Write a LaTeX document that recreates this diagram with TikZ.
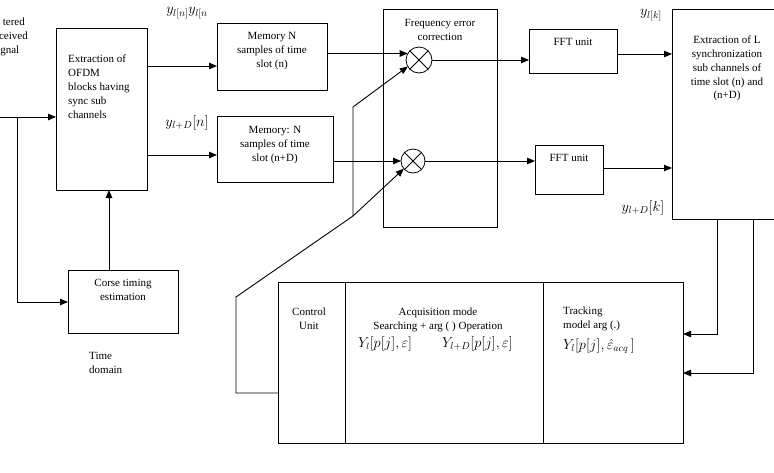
\documentclass[tikz,border=0pt]{standalone}
\usepackage{fontspec}
\setmainfont{Liberation Serif}
\usetikzlibrary{arrows.meta,calc}
\begin{document}
\begin{tikzpicture}[x=1pt,y=-1pt,
 blk/.style={draw, line width=0.8pt, inner sep=0pt, outer sep=0pt},
 mult/.style={draw, circle, line width=0.8pt, inner sep=0pt, outer sep=0pt},
 txt/.style={inner sep=0pt, align=center, font=\fontsize{11}{14}\selectfont},
 txtl/.style={inner sep=0pt, align=left, font=\fontsize{11}{14}\selectfont},
 mth/.style={inner sep=0pt, font=\fontsize{14}{16}\selectfont},
 arr/.style={-{Triangle[length=8pt,width=6.5pt]}},
 wire/.style={line width=0.9pt}]
\useasboundingbox (0,0) rectangle (774,472);
\clip (0,0) rectangle (774,472);
\fill[white] (0,0) rectangle (774,472);

% blocks
\node[blk, minimum width=91pt, minimum height=162pt] (ofdm) at (101.5,109) {};
\node[blk, minimum width=110pt, minimum height=67pt] (memN) at (272,56.5) {};
\node[blk, minimum width=116pt, minimum height=66pt] (memD) at (275,149) {};
\node[blk, minimum width=114pt, minimum height=218pt] (fec) at (440,118) {};
\node[blk, minimum width=88pt, minimum height=44pt] (fft1) at (573,51) {};
\node[blk, minimum width=68pt, minimum height=49pt] (fft2) at (569,169.5) {};
\node[blk, minimum width=118pt, minimum height=210pt] (extL) at (731,114) {};
\node[blk, minimum width=110pt, minimum height=63pt] (corse) at (123,301.5) {};
\node[blk, minimum width=405pt, minimum height=161pt] (bottom) at (480.5,362.5) {};
\draw[line width=0.8pt] ([xshift=67pt]bottom.north west) -- ([xshift=67pt]bottom.south west);
\draw[line width=0.8pt] ([xshift=265pt]bottom.north west) -- ([xshift=265pt]bottom.south west);

\node[mult, minimum size=26pt] (mul1) at (419,60) {};
\node[mult, minimum size=24pt] (mul2) at (413,161) {};
\draw[line width=0.8pt] (mul1.45) -- (mul1.225) (mul1.135) -- (mul1.315);
\draw[line width=0.8pt] (mul2.45) -- (mul2.225) (mul2.135) -- (mul2.315);

% texts
\node[txtl, anchor=base east] (tin1) at (25,25.5) {tered};
\node[txtl, anchor=base east] (tin2) at (28,39.5) {ceived};
\node[txtl, anchor=base east] (tin3) at (19.5,53.5) {gnal};
\node[txtl, anchor=north west] (tofdm) at (68,55) {Extraction of\\OFDM\\blocks having\\sync sub\\channels};
\node[txt, anchor=north] (tmemN) at (272,32) {Memory N\\samples of time\\slot (n)};
\node[txt, anchor=north] (tmemD) at (275,126) {Memory: N\\samples of time\\slot (n+D)};
\node[txt, anchor=north] (tfec) at (440,19) {Frequency error\\correction};
\node[txt, anchor=north] (tfft1) at (573,38) {FFT unit};
\node[txt, anchor=north] (tfft2) at (569,154) {FFT unit};
\node[txt, anchor=north, font=\fontsize{11}{13.75}\selectfont] (textL) at (727,36) {Extraction of L\\synchronization\\sub channels of\\time slot (n) and\\(n+D)};
\node[txt, anchor=north] (tcorse) at (123,279) {Corse timing\\estimation};
\node[txtl, anchor=north west] (ttime) at (89,352) {Time\\domain};
\node[txt, anchor=north] (tctrl) at (309,308) {Control\\Unit};
\node[txt, anchor=north] (tacq) at (438,308) {Acquisition mode\\Searching + arg ( ) Operation};
\node[txtl, anchor=north west] (ttrk) at (563,307) {Tracking\\model arg (.)};

\node[mth, anchor=west, font=\fontsize{13.5}{15}\selectfont] (f1) at (358,344) {$Y_{l}[p[j],\varepsilon]$};
\node[mth, anchor=west] (f2) at (442,344) {$Y_{l+D}[p[j],\varepsilon]$};
\node[mth, anchor=west] (f3) at (563,346) {$Y_{l}[p[j],\hat{\varepsilon}_{acq}\,]$};

\node[mth] (l1) at (187,13) {$y_{l[n]}y_{l[n}$};
\node[mth] (l2) at (187,123) {$y_{l+D}[n]$};
\node[mth] (l3) at (651,15) {$y_{l[k]}$};
\node[mth] (l4) at (643,208) {$y_{l+D}[k]$};

% helper coordinates
\coordinate (inL) at (-5,117);
\coordinate (br) at (17,117);
\coordinate (cb) at (17,302);
\coordinate (ct) at (109,0);
\coordinate (r1) at (0,66);
\coordinate (r2) at (0,155);
\coordinate (r3) at (0,54);
\coordinate (r4) at (0,168);
\coordinate (c1) at (717,334);
\coordinate (c2) at (753,373);
\coordinate (f0) at (0,393);
\coordinate (fa) at (236,393);
\coordinate (fb) at (236,297);
\coordinate (j) at (353,216);
\coordinate (fc) at (353,107);

% connectors
\draw[wire,arr] (inL) -- (ofdm.west |- inL);
\draw[wire,arr] (br) -- (cb) -- (corse.west |- cb);
\draw[wire,arr] (corse.north -| ct) -- (ofdm.south -| ct);
\draw[wire,arr] (ofdm.east |- r1) -- (memN.west |- r1);
\draw[wire,arr] (ofdm.east |- r2) -- (memD.west |- r2);
\draw[wire,arr] (memN.east |- mul1.150) -- (mul1.150);
\draw[wire,arr] (memD.east |- mul2.west) -- (mul2.west);
\draw[wire,arr] (mul1.east) -- (fft1.west |- mul1.east);
\draw[wire,arr] (mul2.east) -- (fft2.west |- mul2.east);
\draw[wire,arr] (fft1.east |- r3) -- (extL.west |- r3);
\draw[wire,arr] (fft2.east |- r4) -- (extL.west |- r4);
\draw[wire,arr] (extL.south -| c1) -- (c1) -- (bottom.east |- c1);
\draw[wire,arr] (extL.south -| c2) -- (c2) -- (bottom.east |- c2);
\draw[wire] (bottom.west |- f0) -- (fa) -- (fb) -- (j);
\draw[wire,arr] (j) -- (fc) -- (mul1.210);
\draw[wire,arr] (j) -- (mul2.220);
\end{tikzpicture}
\end{document}
